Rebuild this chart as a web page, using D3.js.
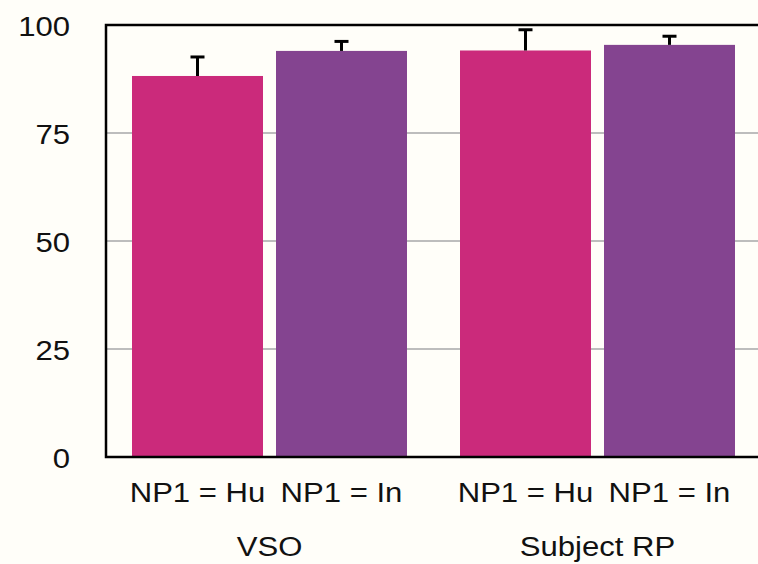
<!DOCTYPE html>
<html>
<head>
<meta charset="utf-8">
<script src="https://cdn.jsdelivr.net/npm/d3@7"></script>
<style>
  html, body { margin: 0; padding: 0; background: #fffef9; }
  svg { display: block; }
  text { font-family: "Liberation Sans", Arial, Helvetica, sans-serif; fill: #111; }
</style>
</head>
<body>
<svg id="chart" width="758" height="564"></svg>
<script>
const groups = ["VSO", "Subject RP"];
const conditions = ["NP1 = Hu", "NP1 = In"];
const values = [[88.2, 94.0], [94.1, 95.4]];
const errors = [[4.4, 2.2], [4.8, 2.0]];
const yTicks = [0, 25, 50, 75, 100];
const colors = ["#cb2a7b", "#844490"];

(function () {
const svg = d3.select("#chart");
const W = 758, H = 564;
const FS = 28, SX = 1.11;
svg.append("rect").attr("width", W).attr("height", H).attr("fill", "#fffef9");

const plotLeft = 106, plotRight = 761, plotTop = 25, plotBottom = 457;

const y = d3.scaleLinear().domain([0, 100]).range([plotBottom, plotTop]);
const x0 = d3.scaleBand().domain(groups).range([plotLeft, plotRight])
  .paddingInner(53 / 328).paddingOuter(26 / 328);
const x1 = d3.scaleBand().domain(conditions).range([0, x0.bandwidth()])
  .paddingInner(13 / 144).paddingOuter(0);

// gridlines
svg.append("g").selectAll("line")
  .data(yTicks.filter(d => d > 0 && d < 100))
  .join("line")
  .attr("x1", plotLeft).attr("x2", W)
  .attr("y1", d => y(d)).attr("y2", d => y(d))
  .attr("stroke", "#bdbdbd").attr("stroke-width", 2);

const gG = svg.append("g").selectAll("g").data(groups).join("g")
  .attr("transform", d => `translate(${x0(d)},0)`);

const rows = (g, gi) => conditions.map((c, ci) => ({c, ci, v: values[gi][ci], e: errors[gi][ci]}));

// bars
gG.selectAll("rect").data(rows).join("rect")
  .attr("x", d => x1(d.c))
  .attr("width", x1.bandwidth())
  .attr("y", d => y(d.v))
  .attr("height", d => y(0) - y(d.v))
  .attr("fill", d => colors[d.ci]);

// error bars
const eb = gG.selectAll("g.err").data(rows).join("g").attr("class", "err");
eb.append("line")
  .attr("x1", d => x1(d.c) + x1.bandwidth() / 2)
  .attr("x2", d => x1(d.c) + x1.bandwidth() / 2)
  .attr("y1", d => y(d.v))
  .attr("y2", d => y(d.v + d.e))
  .attr("stroke", "#000").attr("stroke-width", 3);
eb.append("line")
  .attr("x1", d => x1(d.c) + x1.bandwidth() / 2 - 7)
  .attr("x2", d => x1(d.c) + x1.bandwidth() / 2 + 7)
  .attr("y1", d => y(d.v + d.e))
  .attr("y2", d => y(d.v + d.e))
  .attr("stroke", "#000").attr("stroke-width", 3);

// frame (left, top, bottom)
svg.append("path")
  .attr("d", `M${W + 5},${plotTop} H${plotLeft} V${plotBottom} H${W + 5}`)
  .attr("fill", "none").attr("stroke", "#000").attr("stroke-width", 2.5);

// y axis labels
const yAxis = d3.axisLeft(y).tickValues(yTicks).tickSize(0).tickPadding(0);
const ya = svg.append("g").attr("transform", "translate(70,0)").call(yAxis);
ya.select(".domain").remove();
ya.selectAll("text")
  .attr("font-size", FS).attr("fill", "#111")
  .attr("font-family", '"Liberation Sans", Arial, sans-serif')
  .attr("x", 0)
  .attr("dy", "0.36em")
  .attr("transform", `scale(${SX},1)`);

// x labels
gG.selectAll("text.cond").data(conditions).join("text").attr("class", "cond")
  .attr("transform", d => `translate(${x1(d) + x1.bandwidth() / 2},502) scale(${SX},1)`)
  .attr("text-anchor", "middle")
  .attr("font-size", FS)
  .text(d => d);

svg.append("g").selectAll("text").data(groups).join("text")
  .attr("transform", d => `translate(${x0(d) + x0.bandwidth() / 2},556) scale(${SX},1)`)
  .attr("text-anchor", "middle")
  .attr("font-size", FS)
  .text(d => d);
})();
</script>
</body>
</html>
